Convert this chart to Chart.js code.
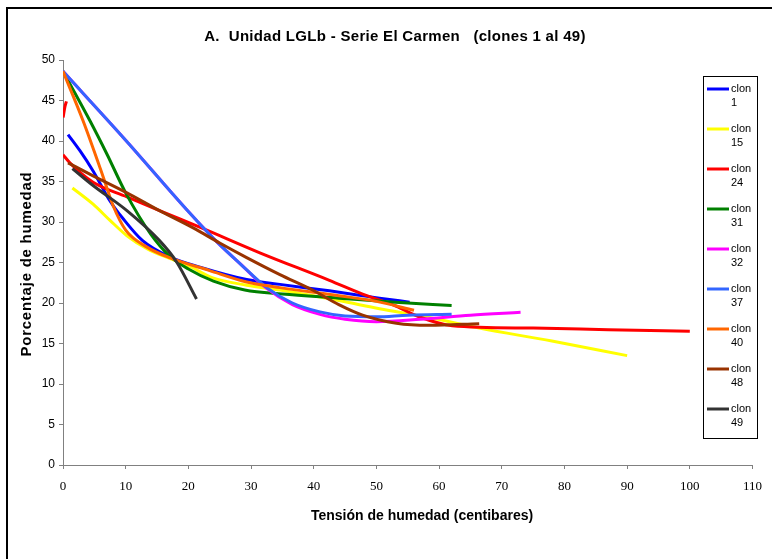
<!DOCTYPE html>
<html><head><meta charset="utf-8">
<style>html,body{margin:0;padding:0;background:#fff;}#wrap{width:772px;height:559px;position:relative;}</style>
<script src="https://cdn.jsdelivr.net/npm/chart.js@4.4.0/dist/chart.umd.min.js"></script>
</head><body><div id="wrap"><canvas id="c" width="772" height="559"></canvas></div>
<script>
const chartTitle = 'A.  Unidad LGLb - Serie El Carmen   (clones 1 al 49)';
const xAxisTitle = 'Tensión de humedad (centibares)';
const yAxisTitle = 'Porcentaje de humedad';
const seriesLabels = ['clon 1','clon 15','clon 24','clon 31','clon 32','clon 37','clon 40','clon 48','clon 49'];
const seriesColors = ['#0000FF','#FFFF00','#FF0000','#008000','#FF00FF','#3366FF','#FF6600','#993300','#333333'];
const xTickValues = [0,10,20,30,40,50,60,70,80,90,100,110];
const yTickValues = [0,5,10,15,20,25,30,35,40,45,50];

const clon1X = [0.8, 2.7, 4.8, 7.5, 9.6, 12.7, 17, 22, 29.3, 34.6, 42.5, 50.5, 55.3];
const clon1Y = [40.8, 38.8, 36.3, 32.6, 30.4, 27.7, 25.7, 24.4, 22.9, 22.3, 21.5, 20.6, 20.1];
const clon15X = [1.5, 4.8, 7.5, 10.2, 13.4, 17, 20, 23.9, 29.3, 34.6, 44, 50.5, 58.4, 66.4, 78, 90];
const clon15Y = [34.2, 32.2, 30.2, 28.3, 26.7, 25.5, 24.6, 23.1, 22.2, 21.6, 20.3, 19.3, 18.2, 16.9, 15.3, 13.5];
const clon24X = [0.02, 0.3, 0.55, 0.3, 0, 1.1, 4.8, 10.2, 15.4, 22, 31.4, 42.5, 47.8, 53.2, 56.8, 62.1, 75, 87, 100];
const clon24Y = [42.9, 44.2, 44.9, null, 38.3, 37.3, 34.9, 33.1, 31.4, 29.3, 26.2, 22.8, 21.1, 19.6, 18.3, 17.2, 16.9, 16.7, 16.5];
const clon31X = [0, 4.3, 7, 10, 14, 17, 20, 24, 29, 35, 44, 53, 62];
const clon31Y = [48.6, 42.5, 38.4, 33.6, 28.5, 25.8, 24.2, 22.7, 21.6, 21.1, 20.6, 20.1, 19.7];
const clon32X = [0, 10, 20, 25, 28.2, 32.5, 36.6, 41, 45, 50, 57, 65, 73];
const clon32Y = [48.6, 40.1, 31.3, 27.2, 24.9, 21.8, 19.8, 18.6, 18.0, 17.7, 18.0, 18.5, 18.85];
const clon37X = [0, 10, 20, 25, 28.2, 32.5, 36.6, 41, 45, 50, 55, 62];
const clon37Y = [48.6, 40.1, 31.3, 27.2, 24.9, 21.9, 20.0, 18.9, 18.4, 18.3, 18.5, 18.6];
const clon40X = [0, 3.2, 6.4, 8, 10, 13.4, 17, 23.4, 29.3, 34.6, 44, 50, 56];
const clon40Y = [48.6, 42.5, 35.6, 32, 29, 26.9, 25.6, 24.0, 22.6, 21.9, 20.9, 20.2, 19.1];
const clon48X = [0.8, 4.8, 10.2, 15.4, 20.7, 25, 29.3, 34.6, 39.8, 44, 47.8, 53.2, 58.4, 66.4];
const clon48Y = [37.3, 35.7, 33.6, 31.4, 29.3, 27.4, 25.6, 23.5, 21.6, 19.8, 18.5, 17.5, 17.25, 17.45];
const clon49X = [1.5, 4.8, 10.2, 15.4, 18.1, 21.3];
const clon49Y = [36.6, 34.5, 31.4, 27.7, 25.1, 20.5];

const seriesX = [clon1X, clon15X, clon24X, clon31X, clon32X, clon37X, clon40X, clon48X, clon49X];
const seriesY = [clon1Y, clon15Y, clon24Y, clon31Y, clon32Y, clon37Y, clon40Y, clon48Y, clon49Y];

const datasets = seriesLabels.map((lab, i) => ({
  label: lab,
  data: seriesX[i].map((x, j) => ({x: x, y: seriesY[i][j]})),
  borderColor: seriesColors[i],
  backgroundColor: seriesColors[i],
  borderWidth: 3,
  pointRadius: 0,
  cubicInterpolationMode: 'monotone',
  spanGaps: false,
  fill: false,
  order: -i
}));

const SANS = '"Liberation Sans", Arial, sans-serif';
const SERIF = '"Liberation Serif", "Times New Roman", serif';

function spacedText(ctx, text, x, y, spacing) {
  if ('letterSpacing' in ctx) {
    ctx.letterSpacing = spacing + 'px';
    ctx.fillText(text, x, y);
    ctx.letterSpacing = '0px';
  } else {
    ctx.fillText(text, x, y);
  }
}

const framePlugin = {
  id: 'frame',
  beforeDraw(chart) {
    const ctx = chart.ctx;
    ctx.save();
    ctx.fillStyle = '#fff';
    ctx.fillRect(0, 0, chart.width, chart.height);
    ctx.strokeStyle = '#000';
    ctx.lineWidth = 2;
    ctx.beginPath();
    ctx.moveTo(7, chart.height + 5);
    ctx.lineTo(7, 8);
    ctx.lineTo(chart.width + 5, 8);
    ctx.stroke();
    ctx.restore();
  },
  afterDraw(chart) {
    const ctx = chart.ctx;
    ctx.save();
    ctx.fillStyle = '#000';
    ctx.textAlign = 'center';
    ctx.textBaseline = 'middle';
    ctx.font = 'bold 15px ' + SANS;
    spacedText(ctx, chartTitle, 395, 37, 0.3);
    ctx.font = 'bold 14px ' + SANS;
    spacedText(ctx, xAxisTitle, 422, 516, 0);
    ctx.save();
    ctx.translate(27, 264);
    ctx.rotate(-Math.PI / 2);
    ctx.font = 'bold 15px ' + SANS;
    spacedText(ctx, yAxisTitle, 0, 0, 0.75);
    ctx.restore();
    // legend
    const bx = 703, by = 76, bw = 54, bh = 362;
    ctx.fillStyle = '#fff';
    ctx.fillRect(bx, by, bw, bh);
    ctx.strokeStyle = '#000';
    ctx.lineWidth = 1;
    ctx.strokeRect(bx + 0.5, by + 0.5, bw, bh);
    ctx.font = '11px ' + SANS;
    ctx.textAlign = 'left';
    chart.data.datasets.forEach((ds, i) => {
      const y = 89 + i * 40;
      ctx.strokeStyle = ds.borderColor;
      ctx.lineWidth = 3;
      ctx.beginPath();
      ctx.moveTo(707, y);
      ctx.lineTo(729, y);
      ctx.stroke();
      const parts = ds.label.split(' ');
      ctx.fillStyle = '#000';
      ctx.fillText(parts[0], 731, y);
      ctx.fillText(parts[1], 731, y + 14);
    });
    ctx.restore();
  }
};

new Chart(document.getElementById('c'), {
  type: 'line',
  data: { datasets: datasets },
  plugins: [framePlugin],
  options: {
    responsive: false,
    animation: false,
    devicePixelRatio: 1,
    layout: { padding: { top: 60, right: 18, bottom: 0, left: 0 } },
    plugins: { legend: { display: false }, tooltip: { enabled: false }, title: { display: false } },
    scales: {
      x: {
        type: 'linear', min: 0, max: 110,
        afterBuildTicks: s => { s.ticks = xTickValues.map(v => ({value: v})); },
        afterFit: s => { s.height = 94; },
        ticks: { color: '#000', font: { family: SERIF, size: 13 }, padding: 10, maxRotation: 0 },
        grid: { drawOnChartArea: false, drawTicks: true, tickLength: 4, color: '#808080' },
        border: { color: '#808080', width: 1 },
        title: { display: false }
      },
      y: {
        type: 'linear', min: 0, max: 50,
        afterBuildTicks: s => { s.ticks = yTickValues.map(v => ({value: v})); },
        afterFit: s => { s.width = 63; },
        ticks: { color: '#000', font: { family: SANS, size: 12 }, padding: 4 },
        grid: { drawOnChartArea: false, drawTicks: true, tickLength: 4, color: '#808080' },
        border: { color: '#808080', width: 1 },
        title: { display: false }
      }
    }
  }
});
</script>
</body></html>
